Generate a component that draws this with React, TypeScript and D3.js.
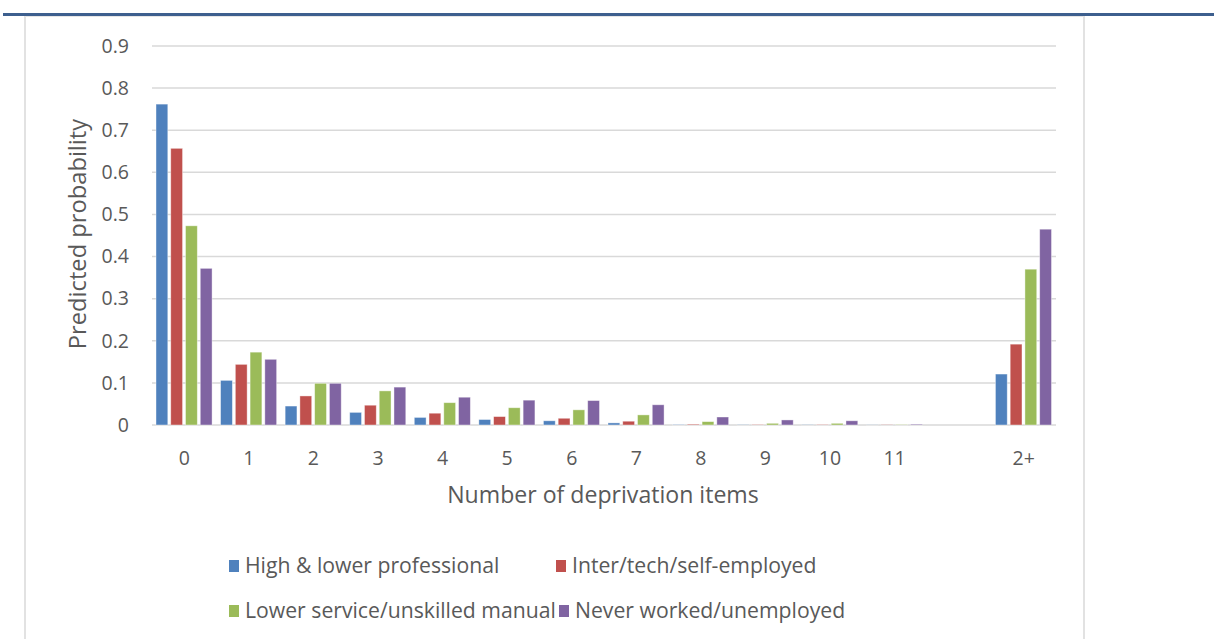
import React from "react";
import * as d3 from "d3";

const categories = ["0", "1", "2", "3", "4", "5", "6", "7", "8", "9", "10", "11", "gap", "2+"];
const categoryLabels = ["0", "1", "2", "3", "4", "5", "6", "7", "8", "9", "10", "11", "", "2+"];
const seriesNames = [
  "High & lower professional",
  "Inter/tech/self-employed",
  "Lower service/unskilled manual",
  "Never worked/unemployed",
];
const highProfessional = [0.762, 0.106, 0.045, 0.03, 0.018, 0.013, 0.01, 0.005, 0.001, 0.0005, 0.0005, 0.0003, 0, 0.121];
const interTech = [0.657, 0.144, 0.069, 0.047, 0.028, 0.02, 0.016, 0.009, 0.002, 0.001, 0.001, 0.0005, 0, 0.192];
const lowerService = [0.473, 0.173, 0.099, 0.081, 0.053, 0.041, 0.036, 0.024, 0.008, 0.004, 0.004, 0.001, 0, 0.37];
const neverWorked = [0.372, 0.156, 0.099, 0.09, 0.066, 0.059, 0.058, 0.048, 0.019, 0.012, 0.01, 0.002, 0, 0.465];
const yTicks = [0, 0.1, 0.2, 0.3, 0.4, 0.5, 0.6, 0.7, 0.8, 0.9];
const colors = ["#4f81bd", "#c0504d", "#9bbb59", "#8064a2"];

const series = [highProfessional, interTech, lowerService, neverWorked];

export default function App() {
  const W = 1214, H = 639;
  const left = 152, right = 1056, top = 46, bottom = 425;
  const x = d3.scaleBand<string>().domain(categories).range([left, right]).paddingInner(0).paddingOuter(0);
  const y = d3.scaleLinear().domain([0, 0.9]).range([bottom, top]);
  const inner = d3.scaleBand<number>().domain([0, 1, 2, 3]).range([4, x.bandwidth() - 4.5]).paddingInner(0.2);
  const font = "'Open Sans', sans-serif";
  const textColor = "#595959";

  const legendPos = [
    { x: 229, y: 560 },
    { x: 556, y: 560 },
    { x: 229, y: 605 },
    { x: 559, y: 605 },
  ];

  return (
    <svg width={W} height={H} style={{ position: "absolute", left: 0, top: 0, background: "#fff" }} fontFamily={font}>
      <rect x={0} y={0} width={W} height={H} fill="#fff" />
      <line x1={3} x2={W} y1={14.5} y2={14.5} stroke="#3d5f8e" strokeWidth={3} />
      <line x1={25} x2={25} y1={16} y2={H} stroke="#d9d9d9" strokeWidth={1.5} />
      <line x1={1084} x2={1084} y1={16} y2={H} stroke="#d9d9d9" strokeWidth={1.5} />
      <line x1={25} x2={1084} y1={16.5} y2={16.5} stroke="#e6e6e6" strokeWidth={1} />

      {yTicks.map((t) => (
        <g key={t}>
          <line x1={left} x2={right} y1={y(t)} y2={y(t)} stroke="#d9d9d9" strokeWidth={1.5} />
          <text x={129} y={y(t)} dy="0.35em" textAnchor="end" fontSize={19.5} fill={textColor}>
            {t === 0 ? "0" : d3.format(".1f")(t)}
          </text>
        </g>
      ))}

      {categories.map((c, i) => (
        <g key={c}>
          {series.map((s, si) => {
            const v = s[i];
            if (!v) return null;
            const bx = (x(c) as number) + (inner(si) as number);
            const h = bottom - y(v);
            return (
              <rect
                key={si}
                x={bx}
                y={y(v)}
                width={inner.bandwidth()}
                height={h}
                fill={colors[si]}
                stroke="#ffffff"
                strokeOpacity={0.5}
                strokeWidth={0.8}
              />
            );
          })}
          <text
            x={(x(c) as number) + x.bandwidth() / 2}
            y={458}
            dy="0.35em"
            textAnchor="middle"
            fontSize={19.5}
            fill={textColor}
          >
            {categoryLabels[i]}
          </text>
        </g>
      ))}

      <text x={603} y={495} dy="0.35em" textAnchor="middle" fontSize={23.1} fill={textColor}>
        Number of deprivation items
      </text>
      <text
        transform={`translate(78,234) rotate(-90)`}
        textAnchor="middle"
        dy="0.35em"
        fontSize={23.7}
        fill={textColor}
      >
        Predicted probability
      </text>

      {seriesNames.map((n, i) => (
        <g key={n}>
          <rect x={legendPos[i].x} y={legendPos[i].y} width={10} height={12} fill={colors[i]} />
          <text x={legendPos[i].x + 16} y={legendPos[i].y + 6} dy="0.35em" fontSize={21.2} fill={textColor}>
            {n}
          </text>
        </g>
      ))}
    </svg>
  );
}
